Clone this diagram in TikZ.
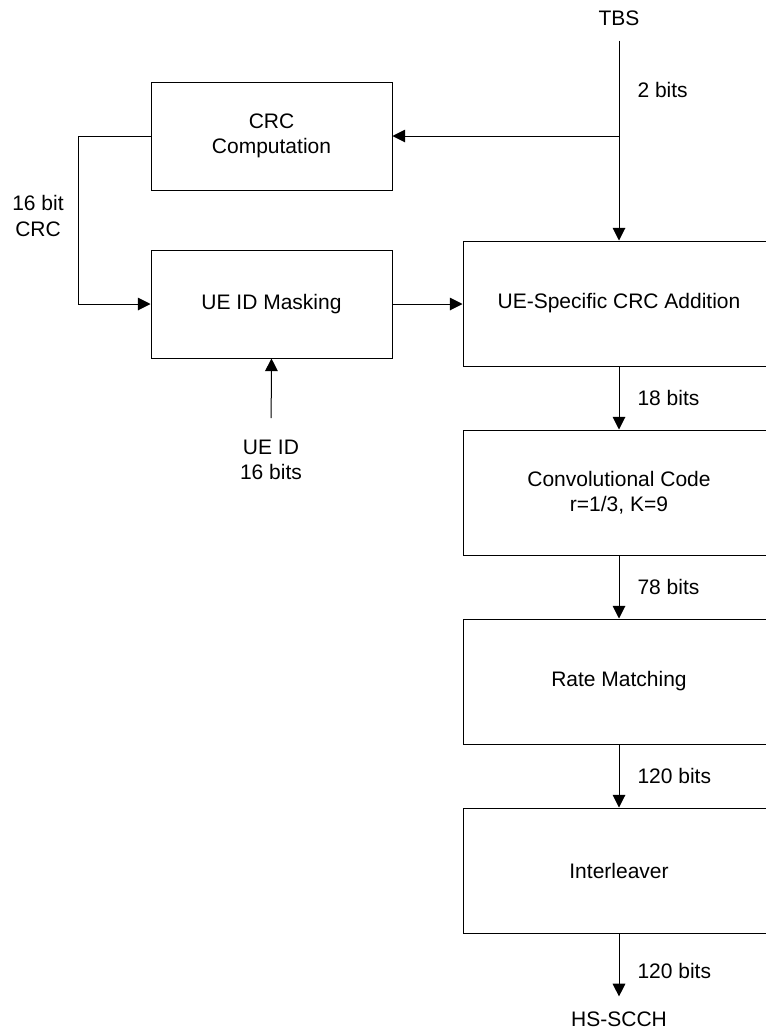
\documentclass[tikz,border=0pt]{standalone}
\usepackage{fontspec}
\setmainfont{Liberation Sans}
\usetikzlibrary{arrows.meta,positioning}

\begin{document}
\begin{tikzpicture}[
  x=0.75pt, y=-0.75pt,
  font=\fontsize{15.75}{19}\selectfont,
  line width=0.75pt,
  node distance=47.25pt,
  blk/.style  ={draw,align=center,minimum width=180.75pt,minimum height=81pt,inner sep=2pt},
  chain/.style={draw,align=center,minimum width=234pt,minimum height=93.75pt,inner sep=2pt},
  lbl/.style  ={align=center,inner sep=2pt},
  >={Triangle[length=9.5pt,width=9.5pt]}]

\useasboundingbox (0,0) rectangle (765,1032);

% ---------- CRC branch ----------
\node[blk] (crc)  at (271.5,136) {CRC\\Computation};
\node[blk] (mask) at (271.5,304) {UE ID Masking};
\node[lbl] (crcbits) at (38,216) {16 bit\\CRC};
\node[lbl] (ueid) at (271,460) {UE ID\\16 bits};

% ---------- main chain ----------
\node[lbl] (tbs) at (619,18) {TBS};
\node[chain] (add) at (619,303.5) {UE-Specific CRC Addition};
\node[chain, below=of add]  (conv) {Convolutional Code\\r=1/3, K=9};
\node[chain, below=of conv] (rm)   {Rate Matching};
\node[chain, below=of rm]   (intl) {Interleaver};
\node[lbl] (hs) at (619,1019) {HS-SCCH};

% ---------- connectors ----------
\coordinate (split) at (tbs |- crc);
\draw[->,shorten <=9pt] (tbs.south) -- node[lbl,right=11.5pt,pos=0.29] {2 bits} (add.north);
\draw[->] (split) -- (crc.east);
\draw[->] (crc.west) -- ++(-72,0) |- (mask.west);
\draw[->] (mask.east) -- (mask.east -| add.west);
\draw[->,shorten <=14pt] (ueid.north) -- (mask.south);

\draw[->] (add)  -- node[lbl,right=11.5pt] {18 bits} (conv);
\draw[->] (conv) -- node[lbl,right=11.5pt] {78 bits} (rm);
\draw[->] (rm)   -- node[lbl,right=11.5pt] {120 bits} (intl);
\draw[->,shorten >=9pt] (intl) -- node[lbl,right=11.5pt] {120 bits} (hs);

\end{tikzpicture}
\end{document}
